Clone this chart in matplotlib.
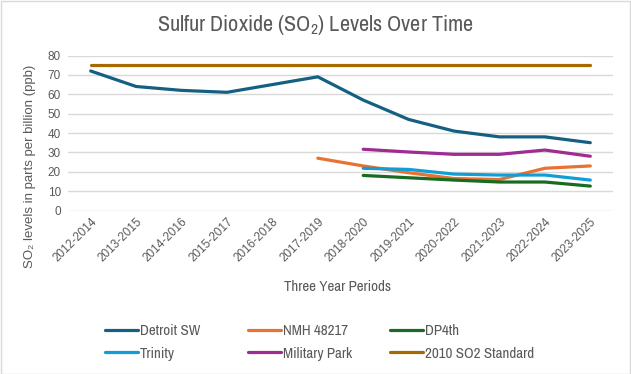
import matplotlib
matplotlib.use("Agg")
import matplotlib.pyplot as plt
from matplotlib.patches import Rectangle
import numpy as np

periods = ["2012-2014", "2013-2015", "2014-2016", "2015-2017", "2016-2018", "2017-2019",
           "2018-2020", "2019-2021", "2020-2022", "2021-2023", "2022-2024", "2023-2025"]
detroit_sw = [72, 64, 62, 61, 65, 69, 57, 47, 41, 38, 38, 35]
nmh_48217 = [None, None, None, None, None, 27, 23, 19.5, 16.5, 16, 21.8, 23]
dp4th = [None, None, None, None, None, None, 18.1, 16.9, 15.7, 14.7, 14.7, 12.6]
trinity = [None, None, None, None, None, None, 21.8, 21.2, 18.8, 18.3, 18.3, 15.7]
military_park = [None, None, None, None, None, None, 31.6, 30.2, 29, 29, 31.2, 28]
standard_2010 = [75] * 12

series = [
    ("Detroit SW", detroit_sw, "#156082"),
    ("NMH 48217", nmh_48217, "#E97132"),
    ("DP4th", dp4th, "#196B24"),
    ("Trinity", trinity, "#0F9ED5"),
    ("Military Park", military_park, "#A02B93"),
    ("2010 SO2 Standard", standard_2010, "#A66A00"),
]

narrow = ["Archivo Narrow", "Liberation Sans", "DejaVu Sans"]
regular = ["Liberation Sans", "DejaVu Sans"]
txt = "#595959"

plt.rcParams["mathtext.fontset"] = "custom"
plt.rcParams["mathtext.rm"] = "Archivo Narrow"
plt.rcParams["mathtext.default"] = "rm"

W, H = 631, 374
fig = plt.figure(figsize=(W / 100, H / 100), dpi=100)
fig.patch.set_facecolor("white")
fig.patches.append(Rectangle((0.5 / W, 0.5 / H), 1 - 1.5 / W, 1 - 1.5 / H, transform=fig.transFigure,
                             fill=False, edgecolor="#D9D9D9", linewidth=1))

l, r, t, b = 68, 613, 55.5, 210.5
ax = fig.add_axes([l / W, 1 - b / H, (r - l) / W, (b - t) / H])

x = np.arange(len(periods))
handles = {}
for name, vals, col in series:
    y = np.array([np.nan if v is None else v for v in vals], dtype=float)
    (h,) = ax.plot(x, y, color=col, linewidth=2.3, solid_capstyle="round", solid_joinstyle="round", label=name)
    handles[name] = h

ax.set_xlim(-0.5, len(periods) - 0.5)
ax.set_ylim(0, 80)
ax.set_yticks(range(0, 81, 10))
ax.set_xticks(x)
ax.set_xticklabels(periods, rotation=45, ha="right", va="top", rotation_mode="anchor",
                   fontsize=8.5, color=txt, family=regular)
for lab in ax.get_yticklabels():
    lab.set_fontsize(8.5)
    lab.set_color(txt)
    lab.set_family(regular)
ax.tick_params(axis="both", length=0, pad=5)
ax.tick_params(axis="x", pad=4)
ax.grid(axis="y", color="#D9D9D9", linewidth=1)
ax.set_axisbelow(True)
for s in ax.spines.values():
    s.set_visible(False)

fig.text(315 / W, 1 - 25 / H, r"Sulfur Dioxide (SO$_2$) Levels Over Time", ha="center", va="center",
         fontsize=16, color=txt, family=narrow)
fig.text(338 / W, 1 - 287 / H, "Three Year Periods", ha="center", va="center",
         fontsize=10.8, color=txt, family=narrow)
fig.text(30 / W, 1 - 166 / H, "SO\u2082 levels in parts per billion (ppb)", ha="center", va="center",
         rotation=90, fontsize=9.5, color=txt, family=regular)

columns = [(105, ["Detroit SW", "Trinity"]),
           (248, ["NMH 48217", "Military Park"]),
           (390, ["DP4th", "2010 SO2 Standard"])]
for xpx, names in columns:
    leg = fig.legend([handles[n] for n in names], names, ncol=1, loc="center left",
                     bbox_to_anchor=(xpx / W, 1 - 342.5 / H), frameon=False,
                     borderaxespad=0, borderpad=0,
                     prop={"family": narrow, "size": 10.8}, handlelength=2.2, handletextpad=0.15,
                     labelspacing=0.55, labelcolor=txt)

fig.savefig("out.png", dpi=100)
